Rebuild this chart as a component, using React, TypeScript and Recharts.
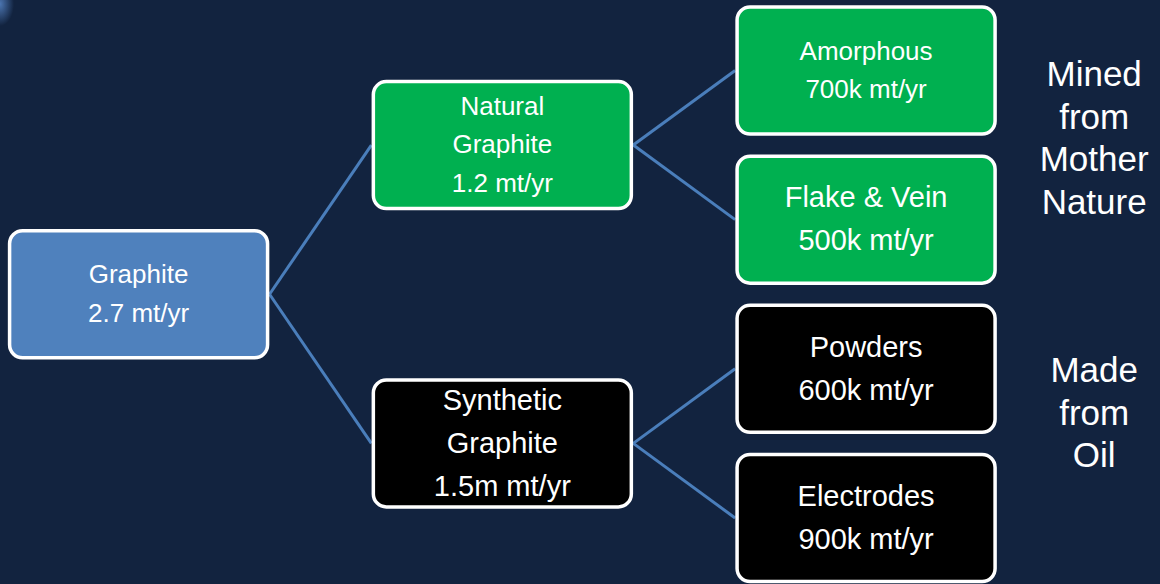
import React from "react";
import { ReferenceLine, Scatter, ScatterChart, XAxis, YAxis } from "recharts";

// tree of graphite supply
const nodeLines = [
  ["Graphite"],
  ["Natural", "Graphite"],
  ["Synthetic", "Graphite"],
  ["Amorphous"],
  ["Flake & Vein"],
  ["Powders"],
  ["Electrodes"],
];
const volumes = [
  "2.7 mt/yr",
  "1.2 mt/yr",
  "1.5m mt/yr",
  "700k mt/yr",
  "500k mt/yr",
  "600k mt/yr",
  "900k mt/yr",
];
const parents = [-1, 0, 0, 1, 1, 2, 2];
const kinds = ["total", "natural", "synthetic", "natural", "natural", "synthetic", "synthetic"];

const noteLines = [
  ["Mined", "from", "Mother", "Nature"],
  ["Made", "from", "Oil"],
];

const W = 1160;
const H = 584;
const BOX_W = 258;
const BOX_H = 127;
const HALF_X = 0.36; // half box width, in level units
const NOTE_POS = [
  { x: 2.627, y: 0.4525 },
  { x: 2.627, y: 2.293 },
];
// text autofit differs per box in the original
const NODE_FONT = [26, 26, 29, 26, 29, 29, 29];

const fills: Record<string, string> = {
  total: "#4F81BD",
  natural: "#00B050",
  synthetic: "#000000",
};

// depth + slot layout from the parent list
const depth = (i: number): number => (parents[i] < 0 ? 0 : depth(parents[i]) + 1);
const children = (i: number) => parents.map((p, j) => (p === i ? j : -1)).filter((j) => j >= 0);
let leafCount = 0;
const slots: number[] = [];
const place = (i: number): number => {
  const kids = children(i);
  if (!kids.length) {
    slots[i] = leafCount++;
  } else {
    const s = kids.map(place);
    slots[i] = (s[0] + s[s.length - 1]) / 2;
  }
  return slots[i];
};
place(0);

const nodes = nodeLines.map((lines, i) => ({
  x: depth(i),
  y: slots[i],
  lines: [...lines, volumes[i]],
  kind: kinds[i],
  fs: NODE_FONT[i],
}));

const notes = noteLines.map((lines, i) => ({ ...NOTE_POS[i], lines }));

const edges = parents
  .map((p, i) => ({ p, i }))
  .filter((e) => e.p >= 0)
  .map((e) => [
    { x: nodes[e.p].x + HALF_X, y: nodes[e.p].y },
    { x: nodes[e.i].x - HALF_X, y: nodes[e.i].y },
  ]);

const NodeShape = (props: any) => {
  const { cx, cy, payload } = props;
  const n = payload.lines.length;
  const fs = payload.fs;
  const lh = fs * 1.48;
  return (
    <g>
      <rect
        x={cx - BOX_W / 2}
        y={cy - BOX_H / 2}
        width={BOX_W}
        height={BOX_H}
        rx={13}
        fill={fills[payload.kind]}
        stroke="#ffffff"
        strokeWidth={3.5}
      />
      {payload.lines.map((t: string, k: number) => (
        <text
          key={k}
          x={cx}
          y={cy + (k - (n - 1) / 2) * lh + fs * 0.32}
          textAnchor="middle"
          fill="#ffffff"
          fontSize={fs}
          fontFamily="'Liberation Sans', Arial, sans-serif"
        >
          {t}
        </text>
      ))}
    </g>
  );
};

const NoteShape = (props: any) => {
  const { cx, cy, payload } = props;
  const n = payload.lines.length;
  const lh = 42.7;
  return (
    <g>
      {payload.lines.map((t: string, k: number) => (
        <text
          key={k}
          x={cx}
          y={cy + (k - (n - 1) / 2) * lh + 12}
          textAnchor="middle"
          fill="#ffffff"
          fontSize={35}
          fontFamily="'Liberation Sans', Arial, sans-serif"
        >
          {t}
        </text>
      ))}
    </g>
  );
};

export default function App() {
  return (
    <div
      style={{
        position: "absolute",
        left: 0,
        top: 0,
        width: W,
        height: H,
        background:
          "radial-gradient(ellipse 14px 22px at 0px 4px, rgba(95,145,215,0.75), rgba(18,35,64,0) 100%), #12233F",
        overflow: "hidden",
      }}
    >
      <ScatterChart width={W} height={H} margin={{ top: 0, right: 0, bottom: 0, left: 0 }}>
        <XAxis type="number" dataKey="x" domain={[-0.381, 2.808]} hide />
        <YAxis type="number" dataKey="y" domain={[-0.4726, 3.4425]} reversed hide />
        {edges.map((seg, i) => (
          <ReferenceLine
            key={i}
            segment={seg}
            stroke="#4A7EBB"
            strokeWidth={3}
            ifOverflow="visible"
          />
        ))}
        <Scatter data={nodes} shape={NodeShape} isAnimationActive={false} />
        <Scatter data={notes} shape={NoteShape} isAnimationActive={false} />
      </ScatterChart>
    </div>
  );
}
